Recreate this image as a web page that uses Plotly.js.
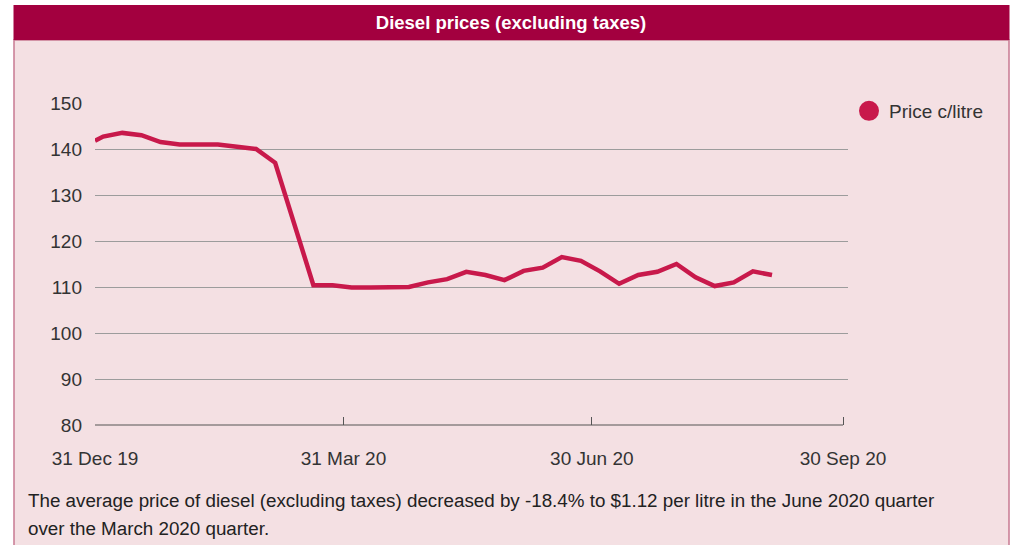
<!DOCTYPE html>
<html>
<head>
<meta charset="utf-8">
<script src="https://cdn.plot.ly/plotly-3.0.1.min.js"></script>
<style>
  html, body { margin: 0; padding: 0; background: #ffffff; }
  #chart { width: 1011px; height: 545px; }
</style>
</head>
<body>
<div id="chart"></div>
<script>
// ---- Data ----
const chartTitle = 'Diesel prices (excluding taxes)';
const seriesName = 'Price c/litre';
const dates = [
  '2019-12-31', '2020-01-03', '2020-01-10', '2020-01-17', '2020-01-24', '2020-01-31',
  '2020-02-07', '2020-02-14', '2020-02-21', '2020-02-28',
  '2020-03-06', '2020-03-13', '2020-03-20', '2020-03-27',
  '2020-04-03', '2020-04-10', '2020-04-17', '2020-04-24',
  '2020-05-01', '2020-05-08', '2020-05-15', '2020-05-22', '2020-05-29',
  '2020-06-05', '2020-06-12', '2020-06-19', '2020-06-26',
  '2020-07-03', '2020-07-10', '2020-07-17', '2020-07-24', '2020-07-31',
  '2020-08-07', '2020-08-14', '2020-08-21', '2020-08-28',
  '2020-09-04'
];
const prices = [
  141.8, 142.7, 143.5, 143.0, 141.5, 141.0,
  141.0, 141.0, 140.5, 140.0,
  137.0, 123.8, 110.4, 110.4,
  109.9, 109.9, 109.9, 110.0,
  111.0, 111.7, 113.3, 112.6, 111.5,
  113.5, 114.2, 116.5, 115.7,
  113.4, 110.7, 112.6, 113.3, 115.0,
  112.1, 110.2, 111.0, 113.4,
  112.6
];
const tickDates = ['2019-12-31', '2020-03-31', '2020-06-30', '2020-09-30'];
const tickLabels = ['31 Dec 19', '31 Mar 20', '30 Jun 20', '30 Sep 20'];
const footerLines = [
  'The average price of diesel (excluding taxes) decreased by -18.4% to $1.12 per litre in the June 2020 quarter',
  'over the March 2020 quarter.'
];

// ---- Geometry helpers (pixel -> paper) ----
const FW = 1011, FH = 545;
const L = 95, R = 848, T = 103, B = 425;
const PW = R - L, PH = B - T;
const xp = px => (px - L) / PW;
const yp = py => (B - py) / PH;

const FONT = '"Liberation Sans", Arial, Helvetica, sans-serif';
const LINE = '#C8194B';
const PINK = '#F4E0E3';
const BAR = '#A3003F';
const TXT = '#333333';

const traces = [
  {
    x: dates, y: prices, type: 'scatter', mode: 'lines',
    line: { color: LINE, width: 4.5, shape: 'linear' },
    showlegend: false, hoverinfo: 'x+y'
  },
  {
    x: [null], y: [null], type: 'scatter', mode: 'markers',
    name: seriesName,
    marker: { color: LINE, size: 16, symbol: 'circle', line: { color: LINE, width: 4 } },
    showlegend: true
  }
];

const layout = {
  width: FW, height: FH, autosize: false,
  margin: { l: L, r: FW - R, t: T, b: FH - B, pad: 0 },
  paper_bgcolor: '#ffffff',
  plot_bgcolor: 'rgba(0,0,0,0)',
  font: { family: FONT, size: 19, color: TXT },
  title: {
    text: '<b>' + chartTitle + '</b>',
    font: { family: FONT, size: 18.5, color: '#ffffff' },
    xref: 'container', x: 511 / FW, xanchor: 'center',
    yref: 'container', y: 1 - 23 / FH, yanchor: 'middle'
  },
  xaxis: {
    type: 'date',
    range: ['2019-12-31', '2020-10-01 20:00'],
    tickmode: 'array', tickvals: tickDates, ticktext: tickLabels,
    ticks: 'inside', ticklen: 8, tickcolor: '#555555', tickwidth: 1,
    ticklabelstandoff: 20,
    showgrid: false, showline: false, zeroline: false,
    tickfont: { family: FONT, size: 19, color: TXT },
    fixedrange: true
  },
  yaxis: {
    range: [80, 150], dtick: 10, tick0: 80,
    showgrid: true, gridcolor: '#9c9c9c', gridwidth: 1,
    showline: false, zeroline: false, ticks: '',
    ticklabelstandoff: 12,
    tickfont: { family: FONT, size: 19, color: TXT },
    fixedrange: true
  },
  legend: {
    x: xp(849), y: yp(92), xanchor: 'left', yanchor: 'top',
    bgcolor: 'rgba(0,0,0,0)',
    font: { family: FONT, size: 19, color: TXT },
    itemsizing: 'trace'
  },
  shapes: [
    {
      type: 'rect', xref: 'paper', yref: 'paper', layer: 'below',
      x0: xp(14), x1: xp(1009), y0: yp(560), y1: yp(40),
      fillcolor: PINK, line: { color: '#C77A93', width: 1.5 }
    },
    {
      type: 'rect', xref: 'paper', yref: 'paper', layer: 'below',
      x0: xp(13.5), x1: xp(1009.5), y0: yp(40), y1: yp(5),
      fillcolor: BAR, line: { width: 0 }
    },
    {
      type: 'line', xref: 'x', yref: 'paper', layer: 'above',
      x0: tickDates[0], x1: tickDates[tickDates.length - 1], y0: 0, y1: 0,
      line: { color: '#555555', width: 1.2 }
    }
  ],
  annotations: footerLines.map((t, i) => ({
    text: t, xref: 'paper', yref: 'paper',
    x: xp(26), y: yp(500 + i * 28), xanchor: 'left', yanchor: 'middle',
    showarrow: false, align: 'left',
    font: { family: FONT, size: 18.8, color: '#222222' }
  }))
};

Plotly.newPlot('chart', traces, layout, { displayModeBar: false, staticPlot: true });
</script>
</body>
</html>
